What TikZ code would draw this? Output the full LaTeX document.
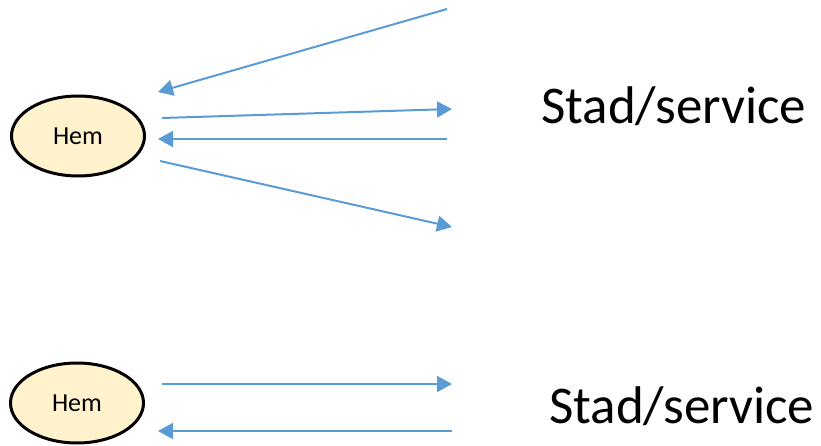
\documentclass[tikz,border=0pt]{standalone}
\usepackage{fontspec}
\setmainfont{Carlito}
\usetikzlibrary{arrows.meta,shapes.geometric}
\definecolor{arrowblue}{HTML}{5B9BD5}
\definecolor{hemfill}{HTML}{FFF2CC}
\begin{document}
\begin{tikzpicture}[x=1pt,y=-1pt,
  hem/.style={ellipse, draw=black, line width=3pt, fill=hemfill, minimum width=133pt, minimum height=80pt, inner sep=0pt, font=\fontsize{26}{30}\selectfont},
  lbl/.style={anchor=base west, inner sep=0pt, font=\fontsize{53}{60}\selectfont},
  flow/.style={draw=arrowblue, line width=2pt, -{Triangle[length=15pt,width=16pt]}}
]
\useasboundingbox (0,0) rectangle (821,446);
% top group
\node[hem] (hem1) at (78,136) {Hem};
\node[lbl] (stad1) at (541,124) {Stad/service};
\coordinate (a1s) at (447,9);   \coordinate (a1e) at (158,92);
\coordinate (a2s) at (162,118); \coordinate (a2e) at (452,109);
\coordinate (a3s) at (447,139); \coordinate (a3e) at (158,139);
\coordinate (a4s) at (160,161); \coordinate (a4e) at (452,227);
\draw[flow] (a1s) -- (a1e);
\draw[flow] (a2s) -- (a2e);
\draw[flow] (a3s) -- (a3e);
\draw[flow] (a4s) -- (a4e);
% bottom group
\node[hem] (hem2) at (77,403) {Hem};
\node[lbl] (stad2) at (549,423) {Stad/service};
\coordinate (b1s) at (162,384); \coordinate (b1e) at (452,384);
\coordinate (b2s) at (452,431); \coordinate (b2e) at (158,431);
\draw[flow] (b1s) -- (b1e);
\draw[flow] (b2s) -- (b2e);
\end{tikzpicture}
\end{document}
